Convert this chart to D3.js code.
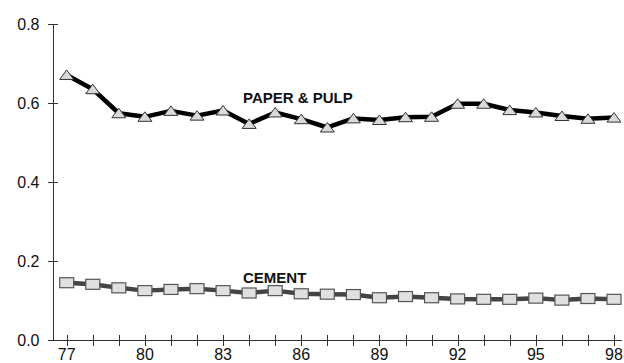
<!DOCTYPE html>
<html><head><meta charset="utf-8">
<script src="https://cdn.jsdelivr.net/npm/d3@7"></script>
<style>body{margin:0;background:#fff}svg{display:block}</style>
</head><body>
<script>
const years = [77,78,79,80,81,82,83,84,85,86,87,88,89,90,91,92,93,94,95,96,97,98];
const paperPulp = [0.671,0.635,0.574,0.565,0.580,0.568,0.581,0.547,0.576,0.559,0.538,0.561,0.557,0.564,0.565,0.598,0.598,0.582,0.576,0.567,0.560,0.563];
const cement = [0.145,0.141,0.132,0.125,0.128,0.130,0.125,0.119,0.125,0.117,0.116,0.115,0.107,0.110,0.107,0.104,0.103,0.103,0.106,0.101,0.105,0.103];
const yTicks = [0.0,0.2,0.4,0.6,0.8];
const xTickLabels = [77,80,83,86,89,92,95,98];

const W=624,H=363;
const svg=d3.select("body").append("svg").attr("width",W).attr("height",H);
const x=d3.scaleLinear().domain([77,98]).range([66.7,614]);
const y=d3.scaleLinear().domain([0,0.8]).range([340,24]);
const font="Arial, 'Liberation Sans', Helvetica, sans-serif";
const axisColor="#333";

// y axis
const ya=svg.append("g").attr("transform","translate(53.5,0)");
ya.append("line").attr("x1",0).attr("x2",0).attr("y1",y(0.8)).attr("y2",y(0)).attr("stroke",axisColor);
ya.selectAll("line.t").data(yTicks).join("line").attr("class","t")
  .attr("x1",-5.5).attr("x2",4.5).attr("y1",d=>Math.round(y(d))+0.5).attr("y2",d=>Math.round(y(d))+0.5).attr("stroke",axisColor);
ya.selectAll("text").data(yTicks).join("text")
  .attr("x",-14).attr("y",d=>y(d)).attr("dy","0.35em").attr("text-anchor","end")
  .attr("font-family",font).attr("font-size",16).attr("fill","#111").text(d=>d.toFixed(1));

// x axis
const xa=svg.append("g");
xa.append("line").attr("x1",48).attr("x2",622).attr("y1",340.5).attr("y2",340.5).attr("stroke",axisColor);
xa.selectAll("line.t").data(years).join("line").attr("class","t")
  .attr("x1",d=>Math.round(x(d))+0.5).attr("x2",d=>Math.round(x(d))+0.5).attr("y1",335).attr("y2",346).attr("stroke",axisColor);
xa.selectAll("text").data(xTickLabels).join("text")
  .attr("x",d=>x(d)).attr("y",359.5).attr("text-anchor","middle")
  .attr("font-family",font).attr("font-size",16).attr("fill","#111").text(d=>d);

const line=d3.line().x(d=>x(d[0])).y(d=>y(d[1]));
const pp=years.map((yr,i)=>[yr,paperPulp[i]]);
const cm=years.map((yr,i)=>[yr,cement[i]]);

svg.append("path").datum(cm).attr("d",line).attr("fill","none").attr("stroke","#444").attr("stroke-width",4.5).attr("stroke-linejoin","round");
svg.selectAll("rect.cm").data(cm).join("rect").attr("class","cm")
  .attr("x",d=>x(d[0])-7).attr("y",d=>y(d[1])-5).attr("width",14).attr("height",10)
  .attr("fill","#e0e0e0").attr("stroke","#555").attr("stroke-width",1.2);

svg.append("path").datum(pp).attr("d",line).attr("fill","none").attr("stroke","#000").attr("stroke-width",4.5).attr("stroke-linejoin","round");
const tri=d=>{const cx=x(d[0]),cy=y(d[1]);return `M${cx-7},${cy+4.5}L${cx+7},${cy+4.5}L${cx},${cy-5}Z`;};
svg.selectAll("path.pp").data(pp).join("path").attr("class","pp")
  .attr("d",tri).attr("fill","#d9d9d9").attr("stroke","#333").attr("stroke-width",1);

svg.append("text").attr("x",243).attr("y",103).attr("font-family",font).attr("font-weight","bold").attr("font-size",15).attr("fill","#111").text("PAPER & PULP");
svg.append("text").attr("x",243).attr("y",283).attr("font-family",font).attr("font-weight","bold").attr("font-size",15).attr("fill","#111").text("CEMENT");
</script>
</body></html>
